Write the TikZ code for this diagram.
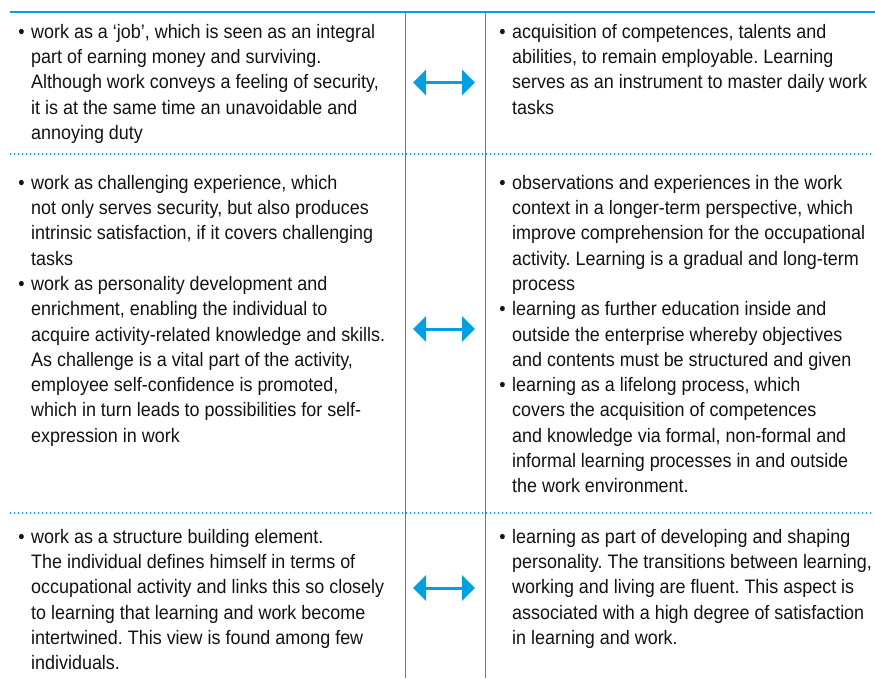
\documentclass[tikz,border=0pt]{standalone}
\usepackage{fontspec}
\setmainfont{Liberation Sans}[FakeStretch=0.92]
\usetikzlibrary{arrows.meta}
\definecolor{ruleblue}{RGB}{0,160,227}
\definecolor{inktext}{RGB}{20,18,18}
\newcommand{\itm}{\strut\llap{•\hspace{6.5pt}}}
\frenchspacing

\begin{document}
\begin{tikzpicture}[x=1pt,y=-1pt,
    font={\fontsize{19.5}{25.3}\selectfont},
    cell/.style={anchor=north west,inner sep=0pt,align=left,text=inktext},
    rule/.style={ruleblue,line width=1pt},
    sep/.style={ruleblue,line width=1.3pt,dash pattern=on 1.3pt off 2.7pt},
    both/.style={ruleblue,line width=3pt,{Triangle[length=13pt,width=25pt]}-{Triangle[length=13pt,width=25pt]}}]
    \useasboundingbox (0,0) rectangle (875,678);

    % rules
    \draw[ruleblue,line width=2pt] (10,12) -- (875,12);
    \draw[rule] (405,12) -- (405,678);
    \draw[rule] (485,12) -- (485,678);
    \draw[sep] (10,154) -- (872,154);
    \draw[sep] (10,513) -- (872,513);

    % work
    \node[cell] (w1) at (31,20.3){\itm work as a ‘job’, which is seen as an integral\\
        part of earning money and surviving.\\
        Although work conveys a feeling of security,\\
        it is at the same time an unavoidable and\\
        annoying duty};
    \node[cell] (w2) at (31,171.3){\itm work as challenging experience, which\\
        not only serves security, but also produces\\
        intrinsic satisfaction, if it covers challenging\\
        tasks\\
        \itm work as personality development and\\
        enrichment, enabling the individual to\\
        acquire activity-related knowledge and skills.\\
        As challenge is a vital part of the activity,\\
        employee self-confidence is promoted,\\
        which in turn leads to possibilities for self-\\
        expression in work};
    \node[cell] (w3) at (31,525.3){\itm work as a structure building element.\\
        The individual defines himself in terms of\\
        occupational activity and links this so closely\\
        to learning that learning and work become\\
        intertwined. This view is found among few\\
        individuals.};

    % learning
    \node[cell] (l1) at (512,20.3){\itm acquisition of competences, talents and\\
        abilities, to remain employable. Learning\\
        serves as an instrument to master daily work\\
        tasks};
    \node[cell] (l2) at (512,171.3){\itm observations and experiences in the work\\
        context in a longer-term perspective, which\\
        improve comprehension for the occupational\\
        activity. Learning is a gradual and long-term\\
        process\\
        \itm learning as further education inside and\\
        outside the enterprise whereby objectives\\
        and contents must be structured and given\\
        \itm learning as a lifelong process, which\\
        covers the acquisition of competences\\
        and knowledge via formal, non-formal and\\
        informal learning processes in and outside\\
        the work environment.};
    \node[cell] (l3) at (512,525.3){\itm learning as part of developing and shaping\\
        personality. The transitions between learning,\\
        working and living are fluent. This aspect is\\
        associated with a high degree of satisfaction\\
        in learning and work.};

    \coordinate (a1w) at (413,82.5);
    \coordinate (a1l) at (475,82.5);
    \coordinate (a2w) at (413,329);
    \coordinate (a2l) at (475,329);
    \coordinate (a3w) at (413,588);
    \coordinate (a3l) at (475,588);

    \draw[both] (a1w) -- (a1l);
    \draw[both] (a2w) -- (a2l);
    \draw[both] (a3w) -- (a3l);
\end{tikzpicture}
\end{document}
